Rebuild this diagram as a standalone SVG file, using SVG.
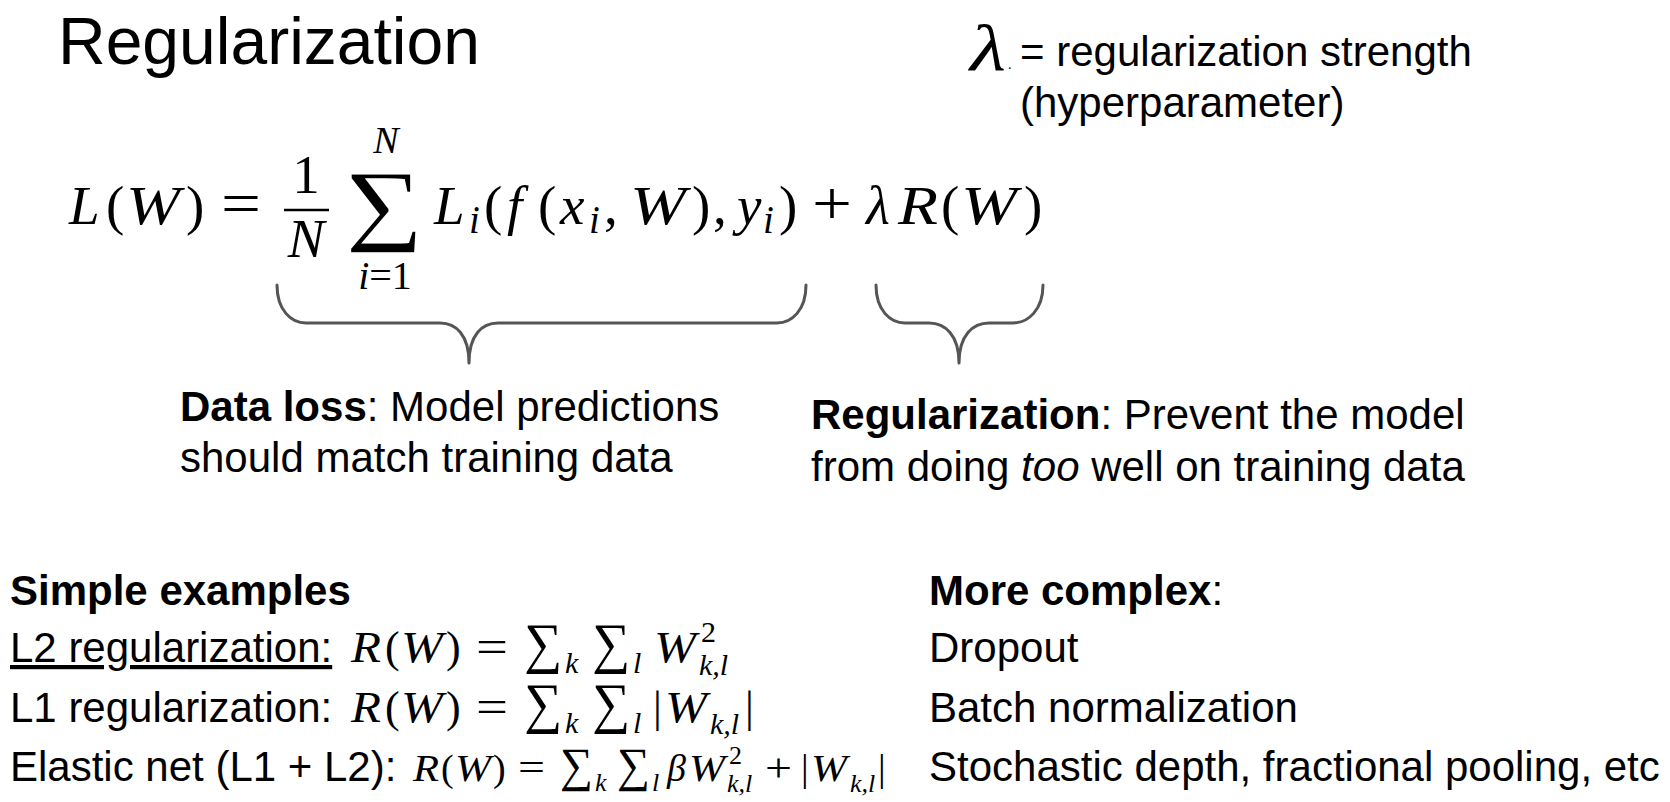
<svg xmlns="http://www.w3.org/2000/svg" width="1670" height="802" viewBox="0 0 1670 802">
<style>
.t{font-family:"Liberation Sans",Arial,Helvetica,sans-serif;font-size:42px;fill:#000}
.b{font-weight:bold}
.m{font-family:"Liberation Serif","Times New Roman",serif;fill:#000}
.i{font-style:italic}
.thin{stroke:#fff;stroke-width:1.6}
.brace{fill:none;stroke:#555;stroke-width:3;stroke-linecap:round;stroke-linejoin:round}
</style>
<rect width="1670" height="802" fill="#fff"/>

<g id="title">
<text class="t" x="58" y="64" style="font-size:66px">Regularization</text>
</g>

<g id="lambda-note">
<text class="m i" x="970" y="70" style="font-size:66px" textLength="36" lengthAdjust="spacingAndGlyphs">λ</text>
<text class="m" x="1008" y="69" style="font-size:14px">.</text>
<text class="t" x="1020" y="66">= regularization strength</text>
<text class="t" x="1020" y="117">(hyperparameter)</text>
</g>

<g id="equation" class="m" style="font-size:55px">
<text class="i" x="69" y="224">L</text>
<text x="106" y="224">(</text>
<text class="i" x="126" y="224" textLength="54" lengthAdjust="spacingAndGlyphs">W</text>
<text x="186" y="224">)</text>
<text x="221" y="224" style="font-size:62px" textLength="40" lengthAdjust="spacingAndGlyphs">=</text>
<text x="306" y="193" text-anchor="middle">1</text>
<line x1="284" y1="210" x2="329" y2="210" stroke="#000" stroke-width="2.4"/>
<text class="i" x="306" y="257" text-anchor="middle">N</text>
<text class="i" x="386" y="153" text-anchor="middle" style="font-size:38px">N</text>
<text class="thin" x="345" y="253" style="font-size:120px" textLength="78" lengthAdjust="spacingAndGlyphs">Σ</text>
<text x="385" y="289" text-anchor="middle" style="font-size:40px"><tspan class="i">i</tspan>=1</text>
<text class="i" x="434" y="224">L</text>
<text class="i" x="469" y="233" style="font-size:39px">i</text>
<text x="484" y="224">(</text>
<text class="i" x="507" y="224">f</text>
<text x="538" y="224">(</text>
<text class="i" x="560" y="224">x</text>
<text class="i" x="589" y="233" style="font-size:39px">i</text>
<text x="604" y="224">,</text>
<text class="i" x="630" y="224" textLength="56" lengthAdjust="spacingAndGlyphs">W</text>
<text x="692" y="224">)</text>
<text x="713" y="224">,</text>
<text class="i" x="737" y="224">y</text>
<text class="i" x="763" y="233" style="font-size:39px">i</text>
<text x="779" y="224">)</text>
<text x="812" y="224" style="font-size:62px" textLength="40" lengthAdjust="spacingAndGlyphs">+</text>
<text class="i" x="866" y="224">λ</text>
<text class="i" x="898" y="224" textLength="40" lengthAdjust="spacingAndGlyphs">R</text>
<text x="941" y="224">(</text>
<text class="i" x="961" y="224" textLength="56" lengthAdjust="spacingAndGlyphs">W</text>
<text x="1024" y="224">)</text>
</g>

<g id="connectors">
<path class="brace" d="M277,285 C277,310 291,323 306,323 L440,323 C456,323 469,335 469,363 C469,335 482,323 498,323 L777,323 C792,323 806,310 806,285"/>
<path class="brace" d="M876,285 C876,310 890,323 905,323 L929,323 C945,323 959,335 959,363 C959,335 973,323 989,323 L1013,323 C1028,323 1043,310 1043,285"/>
</g>

<g id="data-loss">
<text class="t" x="180" y="421"><tspan class="b">Data loss</tspan>: Model predictions</text>
<text class="t" x="180" y="472">should match training data</text>
</g>

<g id="regularization-label">
<text class="t" x="811" y="429"><tspan class="b">Regularization</tspan>: Prevent the model</text>
<text class="t" x="811" y="481">from doing <tspan class="i">too</tspan> well on training data</text>
</g>

<g id="simple-examples">
<text class="t b" x="10" y="605">Simple examples</text>
<text class="t" x="10" y="662" text-decoration="underline">L2 regularization:</text>
<text class="t" x="10" y="722">L1 regularization:</text>
<text class="t" x="10" y="781">Elastic net (L1 + L2):</text>
</g>

<g id="formula-l2" class="m" style="font-size:44px">
<text class="i" x="351" y="662" textLength="30" lengthAdjust="spacingAndGlyphs">R</text>
<text x="385" y="662">(</text>
<text class="i" x="401" y="662" textLength="42" lengthAdjust="spacingAndGlyphs">W</text>
<text x="446" y="662">)</text>
<text x="476" y="662" style="font-size:46px" textLength="32" lengthAdjust="spacingAndGlyphs">=</text>
<text x="524" y="662" style="font-size:56px" textLength="38" lengthAdjust="spacingAndGlyphs">∑</text>
<text class="i" x="565" y="673" style="font-size:30px">k</text>
<text x="592" y="662" style="font-size:56px" textLength="38" lengthAdjust="spacingAndGlyphs">∑</text>
<text class="i" x="633" y="673" style="font-size:30px">l</text>
<text class="i" x="654" y="662" textLength="42" lengthAdjust="spacingAndGlyphs">W</text>
<text x="701" y="642" style="font-size:30px">2</text>
<text class="i" x="699" y="675" style="font-size:30px">k,l</text>
</g>

<g id="formula-l1" class="m" style="font-size:44px">
<text class="i" x="351" y="722" textLength="30" lengthAdjust="spacingAndGlyphs">R</text>
<text x="385" y="722">(</text>
<text class="i" x="401" y="722" textLength="42" lengthAdjust="spacingAndGlyphs">W</text>
<text x="446" y="722">)</text>
<text x="476" y="722" style="font-size:46px" textLength="32" lengthAdjust="spacingAndGlyphs">=</text>
<text x="524" y="722" style="font-size:56px" textLength="38" lengthAdjust="spacingAndGlyphs">∑</text>
<text class="i" x="565" y="733" style="font-size:30px">k</text>
<text x="592" y="722" style="font-size:56px" textLength="38" lengthAdjust="spacingAndGlyphs">∑</text>
<text class="i" x="633" y="733" style="font-size:30px">l</text>
<text x="653" y="722">|</text>
<text class="i" x="665" y="722" textLength="42" lengthAdjust="spacingAndGlyphs">W</text>
<text class="i" x="710" y="734" style="font-size:30px">k,l</text>
<text x="745" y="722">|</text>
</g>

<g id="formula-elastic" class="m" style="font-size:38px">
<text class="i" x="413" y="781" textLength="26" lengthAdjust="spacingAndGlyphs">R</text>
<text x="441" y="781">(</text>
<text class="i" x="455" y="781" textLength="36" lengthAdjust="spacingAndGlyphs">W</text>
<text x="493" y="781">)</text>
<text x="518" y="781" style="font-size:40px" textLength="27" lengthAdjust="spacingAndGlyphs">=</text>
<text x="560" y="781" style="font-size:48px" textLength="33" lengthAdjust="spacingAndGlyphs">∑</text>
<text class="i" x="595" y="791" style="font-size:26px">k</text>
<text x="617" y="781" style="font-size:48px" textLength="33" lengthAdjust="spacingAndGlyphs">∑</text>
<text class="i" x="652" y="791" style="font-size:26px">l</text>
<text class="i" x="667" y="781">β</text>
<text class="i" x="689" y="781" textLength="36" lengthAdjust="spacingAndGlyphs">W</text>
<text x="729" y="764" style="font-size:26px">2</text>
<text class="i" x="727" y="792" style="font-size:26px">k,l</text>
<text x="765" y="781" style="font-size:40px" textLength="27" lengthAdjust="spacingAndGlyphs">+</text>
<text x="801" y="781">|</text>
<text class="i" x="811" y="781" textLength="36" lengthAdjust="spacingAndGlyphs">W</text>
<text class="i" x="850" y="792" style="font-size:26px">k,l</text>
<text x="878" y="781">|</text>
</g>

<g id="more-complex">
<text class="t" x="929" y="605"><tspan class="b">More complex</tspan>:</text>
<text class="t" x="929" y="662">Dropout</text>
<text class="t" x="929" y="722">Batch normalization</text>
<text class="t" x="929" y="781">Stochastic depth, fractional pooling, etc</text>
</g>
</svg>
